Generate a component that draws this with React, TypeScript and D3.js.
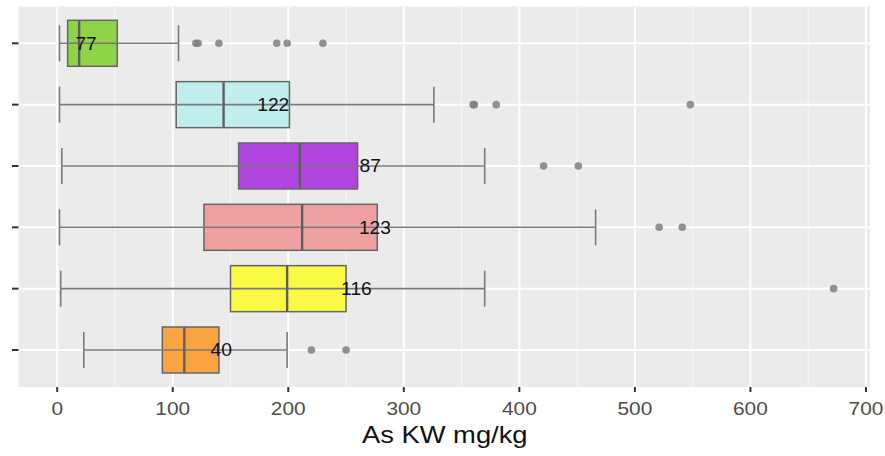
import React from "react";
import * as d3 from "d3";

const groups = ["G1", "G2", "G3", "G4", "G5", "G6"];
const counts = [77, 122, 87, 123, 116, 40];
const whiskerLow = [2, 2, 4, 2, 3, 23];
const q1 = [9, 103, 157, 127, 150, 91];
const median = [19, 144, 210, 212, 199, 110];
const q3 = [52, 201, 260, 277, 250, 140];
const whiskerHigh = [105, 326, 370, 466, 370, 199];
const outliers = [
  [120, 122, 140, 190, 199, 230],
  [360, 361, 380, 548],
  [421, 451],
  [521, 541],
  [672],
  [220, 250],
];
const labelX = [25, 187, 271, 275, 259, 142];
const fills = ["#8fd447", "#c0eeee", "#b044de", "#efa0a0", "#fafa44", "#f9a441"];
const xTicks = [0, 100, 200, 300, 400, 500, 600, 700];
const xMinor = [50, 150, 250, 350, 450, 550, 650];
const xTitle = "As KW mg/kg";

export default function App() {
  const W = 885, H = 456;
  const left = 18.5, right = 870, top = 6.5, bottom = 387;
  const x = d3.scaleLinear().domain([-33.5, 703.5]).range([left, right]);
  const y = d3.scalePoint<string>().domain(groups).range([43.3, 350]);
  const boxH = 46, capH = 36;
  const font = "'Liberation Sans', Arial, sans-serif";
  return (
    <svg width={W} height={H} style={{ position: "absolute", left: 0, top: 0 }} fontFamily={font}>
      <rect x={0} y={0} width={W} height={H} fill="#fff" />
      <rect x={left} y={top} width={right - left} height={bottom - top} fill="#ebebeb" />
      {xMinor.map((v) => (
        <line key={"m" + v} x1={x(v)} x2={x(v)} y1={top} y2={bottom} stroke="#f7f7f7" strokeWidth={1} />
      ))}
      {xTicks.map((v) => (
        <line key={"g" + v} x1={x(v)} x2={x(v)} y1={top} y2={bottom} stroke="#fff" strokeWidth={2} />
      ))}
      {groups.map((g) => (
        <line key={"h" + g} x1={left} x2={right} y1={y(g)} y2={y(g)} stroke="#fff" strokeWidth={2} />
      ))}
      {groups.map((g, i) => {
        const cy = y(g)!;
        return (
          <g key={g}>
            <line x1={x(whiskerLow[i])} x2={x(whiskerLow[i])} y1={cy - capH / 2} y2={cy + capH / 2} stroke="#7a7a7a" strokeWidth={1.6} />
            <line x1={x(whiskerHigh[i])} x2={x(whiskerHigh[i])} y1={cy - capH / 2} y2={cy + capH / 2} stroke="#7a7a7a" strokeWidth={1.6} />
            <rect x={x(q1[i])} y={cy - boxH / 2} width={x(q3[i]) - x(q1[i])} height={boxH} fill={fills[i]} stroke="#666" strokeWidth={1.5} />
            <line x1={x(whiskerLow[i])} x2={x(whiskerHigh[i])} y1={cy} y2={cy} stroke="#7a7a7a" strokeWidth={1.6} />
            <line x1={x(median[i])} x2={x(median[i])} y1={cy - boxH / 2} y2={cy + boxH / 2} stroke="#5f5f5f" strokeWidth={2.4} />
            {outliers[i].map((o, k) => (
              <circle key={k} cx={x(o)} cy={cy} r={3.8} fill="#7f7f7f" fillOpacity={0.85} />
            ))}
            <text transform={`translate(${x(labelX[i])},${cy}) scale(1.1,1)`} dy="0.36em" textAnchor="middle" fontSize={17.5} fill="#111">
              {counts[i]}
            </text>
          </g>
        );
      })}
      {groups.map((g) => (
        <line key={"yt" + g} x1={12} x2={left} y1={y(g)} y2={y(g)} stroke="#333" strokeWidth={2} />
      ))}
      {xTicks.map((v) => (
        <g key={"t" + v}>
          <line x1={x(v)} x2={x(v)} y1={bottom} y2={bottom + 5} stroke="#333" strokeWidth={2} />
          <text transform={`translate(${x(v)},415) scale(1.13,1)`} textAnchor="middle" fontSize={18.5} fill="#4d4d4d">
            {v}
          </text>
        </g>
      ))}
      <text transform={`translate(${(left + right) / 2 + 0.5},443) scale(1.19,1)`} textAnchor="middle" fontSize={23} fill="#111">
        {xTitle}
      </text>
    </svg>
  );
}
